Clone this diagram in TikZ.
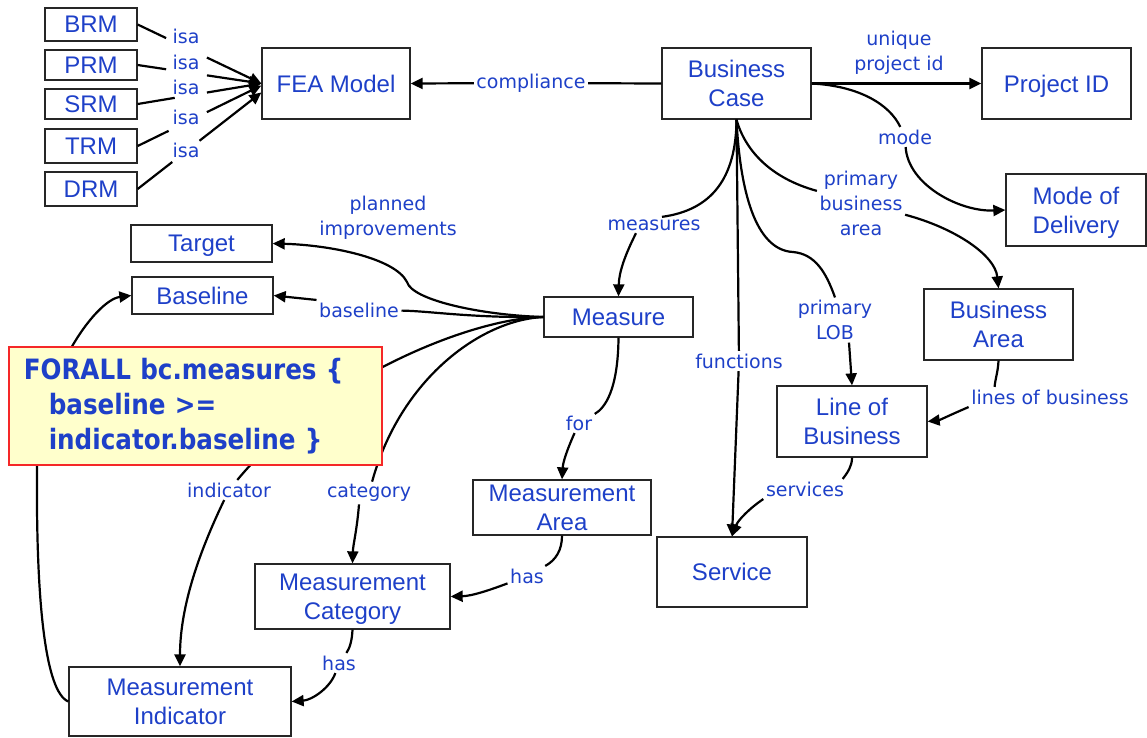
\documentclass[tikz,border=0pt]{standalone}
\usepackage{fontspec}
\setmainfont{Liberation Sans}
\newfontfamily\lblfont{DejaVu Sans}
\newfontfamily\notefont{DejaVu Sans}[FakeStretch=0.88]
\usetikzlibrary{arrows.meta,calc}
\definecolor{conceptblue}{RGB}{30,64,200}
\definecolor{notefill}{RGB}{255,255,204}
\definecolor{noteborder}{RGB}{245,40,40}
\begin{document}
\begin{tikzpicture}[x=1pt,y=-1pt,
  concept/.style={draw=black!85, line width=1.3pt, text=conceptblue, align=center,
    inner sep=0pt, font=\fontsize{24}{29}\selectfont, text depth=0pt},
  lbl/.style={text=conceptblue, fill=white, inner sep=2.5pt, align=center,
    font=\lblfont\fontsize{19}{25}\selectfont},
  link/.style={draw=black, line width=2.2pt},
  arr/.style={link, -{Triangle[length=12pt,width=11pt]}},
]
\useasboundingbox (0,0) rectangle (1147,737);

% concepts
\node[concept, minimum width=92, minimum height=33] (brm) at (91,24.5) {BRM};
\node[concept, minimum width=92, minimum height=30] (prm) at (91,65) {PRM};
\node[concept, minimum width=92, minimum height=30] (srm) at (91,104) {SRM};
\node[concept, minimum width=92, minimum height=34] (trm) at (91,146) {TRM};
\node[concept, minimum width=92, minimum height=34] (drm) at (91,189) {DRM};
\node[concept, minimum width=148, minimum height=71] (fea) at (336,83.5) {FEA Model};
\node[concept, minimum width=149, minimum height=71] (bc) at (736.5,83.5) {Business\\Case};
\node[concept, minimum width=149, minimum height=71] (pid) at (1056.5,83.5) {Project ID};
\node[concept, minimum width=140, minimum height=72] (mod) at (1076,210) {Mode of\\Delivery};
\node[concept, minimum width=149, minimum height=71] (ba) at (998.5,324.5) {Business\\Area};
\node[concept, minimum width=150, minimum height=71] (lob) at (852,421.5) {Line of\\Business};
\node[concept, minimum width=150, minimum height=70] (svc) at (732,572) {Service};
\node[concept, minimum width=149, minimum height=40] (meas) at (618.5,317) {Measure};
\node[concept, minimum width=178, minimum height=55] (ma) at (562,507.5) {Measurement\\Area};
\node[concept, minimum width=195, minimum height=65] (mc) at (352.5,596.5) {Measurement\\Category};
\node[concept, minimum width=222, minimum height=69] (mi) at (180,701.5) {Measurement\\Indicator};
\node[concept, minimum width=141, minimum height=37] (tgt) at (201.5,243.5) {Target};
\node[concept, minimum width=141, minimum height=37] (bl) at (202.5,295.5) {Baseline};

% link phrases
\node[lbl] (isa1) at (186,36) {isa};
\node[lbl] (isa2) at (186,62) {isa};
\node[lbl] (isa3) at (186,87) {isa};
\node[lbl] (isa4) at (186,117) {isa};
\node[lbl] (isa5) at (186,150) {isa};
\node[lbl] (comp) at (531,83) {compliance};
\node[lbl] (uniq) at (899,53) {unique\\project id};
\node[lbl] (mode) at (905,137) {mode};
\node[lbl] (ml) at (654,225) {measures};
\node[lbl] (fn) at (739,361) {functions};
\node[lbl] (plob) at (835,320) {primary\\LOB};
\node[lbl] (pba) at (861,203) {primary\\business\\area};
\node[lbl] (pimp) at (388,218) {planned\\improvements};
\node[lbl] (bll) at (359,310) {baseline};
\node[lbl] (indl) at (229,490) {indicator};
\node[lbl] (catl) at (369,493) {category};
\node[lbl] (forl) at (579,423) {for};
\node[lbl] (has1) at (527,576) {has};
\node[lbl] (has2) at (339,663) {has};
\node[lbl] (svcl) at (805,489) {services};
\node[lbl] (lol) at (1050,397) {lines of business};

% isa links, broken where the phrase sits
\foreach \src/\a/\b/\dy in {brm/0.23/0.56/0, prm/0.23/0.56/0, srm/0.30/0.56/0,
                            trm/0.25/0.56/-2, drm/0.28/0.50/-9} {
  \coordinate (tip) at ([yshift=\dy pt]fea.west);
  \draw[link] (\src.east) -- ($(\src.east)!\a!(tip)$);
  \draw[arr] ($(\src.east)!\b!(tip)$) -- (tip);
}

% business case links
\draw[link] (bc.west) -- (comp);
\draw[arr] (comp) -- (fea.east);
\draw[arr] (bc.east) -- (pid.west);
\draw[link] (bc.east) .. controls (860,86) and (890,105) .. (mode);
\draw[arr] (mode) .. controls (908,185) and (960,212) .. (mod.west);
\draw[link] (bc.south) .. controls (736,178) and (712,210) .. ([xshift=8pt]ml.north);
\draw[arr] ([xshift=-18pt]ml.south) .. controls (625,255) and (619,272) .. (meas.north);
\draw[link] (bc.south) -- (fn);
\draw[arr] (fn) -- (svc.north);
\draw[link] (bc.south) .. controls (740,190) and (755,250) .. (793,252)
  .. controls (815,254) and (826,272) .. (plob.north);
\draw[arr] ([xshift=14pt]plob.south) -- (lob.north);
\draw[link] (bc.south) .. controls (745,150) and (770,178) .. (pba);
\draw[arr] (pba) .. controls (955,228) and (995,255) .. (ba.north);

% measure links
\draw[arr] (meas.west) .. controls (480,315) and (412,300) .. (407,282)
  .. controls (395,258) and (330,245) .. (tgt.east);
\draw[link] (meas.west) .. controls (470,318) and (430,311) .. (bll);
\draw[arr] (bll.north west) -- (bl.east);
\draw[link] (meas.west) .. controls (470,318) and (320,380) .. (indl);
\draw[arr] (indl) .. controls (205,540) and (180,600) .. (mi.north);
\draw[link] (meas.west) .. controls (480,320) and (400,380) .. (catl);
\draw[arr] ([xshift=-10pt]catl.south) .. controls (357,530) and (353,545) .. (mc.north);
\draw[link] (meas.south) .. controls (618,390) and (605,408) .. (forl);
\draw[arr] (forl) .. controls (567,450) and (563,462) .. (ma.north);
\draw[link] (ma.south) .. controls (562,550) and (556,560) .. (has1);
\draw[arr] (has1) .. controls (490,590) and (472,596) .. (mc.east);
\draw[link] (mc.south) .. controls (352,640) and (350,648) .. (has2);
\draw[arr] (has2) .. controls (330,688) and (312,700) .. (mi.east);

% business area / line of business links
\draw[link] (ba.south) .. controls (998,372) and (995,380) .. ([xshift=26pt]lol.north west);
\draw[arr] (lol.south west) .. controls (950,415) and (940,420) .. (lob.east);
\draw[link] (lob.south) .. controls (852,466) and (848,472) .. ([xshift=-4pt]svcl.north east);
\draw[arr] (svcl.south west) .. controls (750,508) and (738,520) .. (svc.north);

% indicator back to baseline
\draw[arr] (mi.west) .. controls (45,692) and (36,600) .. (37,470)
  .. controls (38,380) and (95,300) .. (bl.west);

% constraint note, laid over the links
\node[anchor=north west, draw=noteborder, fill=notefill, line width=1.5pt,
      minimum width=373, minimum height=118, inner xsep=15pt, inner ysep=0pt,
      text width=343, align=left, text=conceptblue,
      font=\notefont\bfseries\fontsize{28}{35}\selectfont] (note) at (8,346)
  {FORALL bc.measures \{\\\hspace*{25pt}baseline >=\\\hspace*{25pt}indicator.baseline \}};
\end{tikzpicture}
\end{document}
